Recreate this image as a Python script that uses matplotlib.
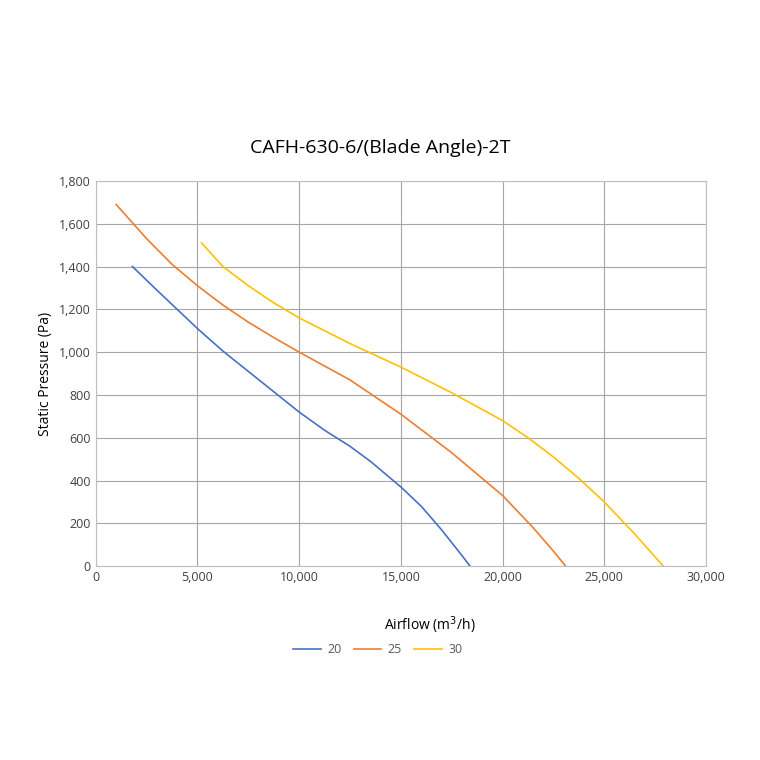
import matplotlib
matplotlib.use("Agg")
import matplotlib.pyplot as plt
from matplotlib.ticker import FuncFormatter

x20 = [1800, 3000, 4000, 5000, 6250, 7500, 8750, 10000, 11250, 12500, 13500, 14000, 15000, 16000, 17000, 17500, 18000, 18400]
y20 = [1400, 1290, 1200, 1110, 1005, 910, 815, 720, 635, 560, 490, 450, 370, 280, 170, 110, 50, 0]
x25 = [1000, 2500, 3750, 5000, 6250, 7500, 8750, 10000, 12500, 15000, 17500, 19000, 20000, 21000, 21500, 22500, 23100]
y25 = [1690, 1530, 1410, 1310, 1220, 1140, 1068, 1000, 870, 710, 530, 410, 330, 230, 180, 70, 0]
x30 = [5200, 6250, 7500, 8750, 10000, 12500, 15000, 17500, 20000, 21250, 22500, 23750, 25000, 26500, 27900]
y30 = [1510, 1400, 1310, 1230, 1160, 1040, 930, 810, 680, 600, 510, 410, 300, 150, 0]
labels = ["20", "25", "30"]
colors = ["#4472C4", "#ED7D31", "#FFC000"]

plt.rcParams['font.family'] = ['Open Sans', 'DejaVu Sans']
fig = plt.figure(figsize=(7.6, 7.6), dpi=100)
ax = fig.add_axes([0.126, 0.255, 0.803, 0.507])
for xs, ys, lab, c in zip([x20, x25, x30], [y20, y25, y30], labels, colors):
    ax.plot(xs, ys, color=c, lw=1.2, label=lab)
ax.set_xlim(0, 30000)
ax.set_ylim(0, 1800)
ax.set_xticks(range(0, 30001, 5000))
ax.set_yticks(range(0, 1801, 200))
fmt = FuncFormatter(lambda v, p: f"{int(v):,}")
ax.xaxis.set_major_formatter(fmt)
ax.yaxis.set_major_formatter(fmt)
ax.grid(True, color="#a6a6a6", lw=0.8)
ax.set_axisbelow(True)
for s in ax.spines.values():
    s.set_color("#bfbfbf")
ax.tick_params(length=0, labelsize=9, colors="#404040")
fig.text(0.5, 0.805, "CAFH-630-6/(Blade Angle)-2T", ha="center", va="center", fontsize=14)
ax.set_ylabel("Static Pressure (Pa)", fontsize=10)
fig.text(0.566, 0.171, "Airflow (m$^3$/h)", ha="center", fontsize=10)
fig.legend(loc="center", bbox_to_anchor=(0.497, 0.145), ncol=3, frameon=False,
           fontsize=9, labelcolor="#595959", handlelength=2.2, columnspacing=1.0, handletextpad=0.5)
fig.savefig("out.png", dpi=100)
